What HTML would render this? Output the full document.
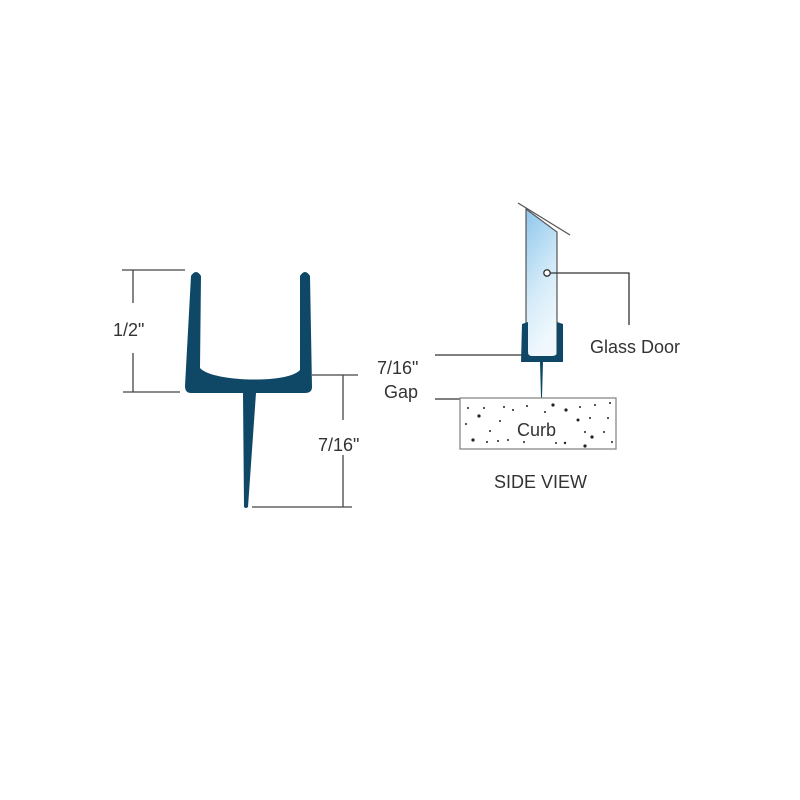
<!DOCTYPE html>
<html><head><style>html,body{margin:0;padding:0;background:#fff}svg{display:block}</style></head>
<body>
<svg width="800" height="800" viewBox="0 0 800 800" xmlns="http://www.w3.org/2000/svg">
<defs>
<linearGradient id="g" x1="0" y1="0" x2="0.3" y2="1">
<stop offset="0" stop-color="#8ec6ec"/><stop offset="0.6" stop-color="#d4ebf8"/><stop offset="1" stop-color="#f0f8fd"/>
</linearGradient>
</defs>
<g font-family="Liberation Sans, sans-serif" fill="#333" font-size="18">
<!-- left profile -->
<path fill="#0f4866" d="M191,276 Q196,268 201,276 L200,368 C212,382 288,384 300,370 L300,276 Q305,268 310,276 L312,387 Q312,393 305,393 L256,393 L248,507 Q246,509 244,507 L243,393 L191,393 Q185,393 185,386 Z"/>
<g stroke="#444" stroke-width="1.3" fill="none">
<line x1="122" y1="270" x2="185" y2="270"/>
<line x1="123" y1="392" x2="180" y2="392"/>
<line x1="133" y1="270" x2="133" y2="303"/>
<line x1="133" y1="353" x2="133" y2="392"/>
<line x1="312" y1="375" x2="358" y2="375"/>
<line x1="252" y1="507" x2="352" y2="507"/>
<line x1="343" y1="375" x2="343" y2="420"/>
<line x1="343" y1="455" x2="343" y2="507"/>
</g>
<text x="113" y="336">1/2"</text>
<text x="318" y="451">7/16"</text>
<!-- side view -->
<path d="M526,209 L557,232 L557,358 L526,358 Z" fill="url(#g)" stroke="#555" stroke-width="1.2"/>
<line x1="518" y1="203" x2="570" y2="235" stroke="#555" stroke-width="1.3"/>
<path fill="#0f4866" d="M522,324 L528,322 L528,352 Q528,356 532,356 L552,356 Q557,356 557,352 L557,322 L563,324 L563,362 L543,362 L542,398 L541,398 L540,362 L521,362 Z"/>
<circle cx="547" cy="273" r="3.2" fill="#fff" stroke="#333" stroke-width="1.3"/>
<g stroke="#333" stroke-width="1.3" fill="none">
<polyline points="550,273 629,273 629,325"/>
<line x1="435" y1="355" x2="522" y2="355"/>
<line x1="435" y1="399" x2="460" y2="399"/>
</g>
<rect x="460" y="398" width="156" height="51" fill="#fff" stroke="#888" stroke-width="1.3"/>
<g fill="#222">
<circle cx="479" cy="416" r="1.6"/><circle cx="473" cy="440" r="1.6"/><circle cx="490" cy="431" r="1"/><circle cx="484" cy="408" r="1"/>
<circle cx="504" cy="407" r="1"/><circle cx="498" cy="441" r="1"/><circle cx="513" cy="410" r="1"/><circle cx="508" cy="440" r="1"/>
<circle cx="527" cy="406" r="1"/><circle cx="553" cy="405" r="1.6"/><circle cx="566" cy="410" r="1.6"/><circle cx="580" cy="407" r="1"/>
<circle cx="595" cy="405" r="1"/><circle cx="578" cy="420" r="1.5"/><circle cx="590" cy="418" r="1"/><circle cx="608" cy="418" r="1"/>
<circle cx="585" cy="432" r="1"/><circle cx="592" cy="437" r="1.6"/><circle cx="604" cy="432" r="1"/><circle cx="585" cy="446" r="1.6"/>
<circle cx="565" cy="443" r="1.2"/><circle cx="556" cy="443" r="1"/><circle cx="612" cy="442" r="1"/><circle cx="524" cy="442" r="1"/>
<circle cx="466" cy="424" r="1"/><circle cx="468" cy="408" r="1"/><circle cx="545" cy="412" r="1"/><circle cx="500" cy="421" r="1"/>
<circle cx="487" cy="442" r="1"/><circle cx="610" cy="403" r="1"/>
</g>
<text x="517" y="436">Curb</text>
<text x="590" y="353">Glass Door</text>
<text x="377" y="374">7/16"</text>
<text x="384" y="398">Gap</text>
<text x="494" y="488">SIDE VIEW</text>
</g>
</svg>
</body></html>
